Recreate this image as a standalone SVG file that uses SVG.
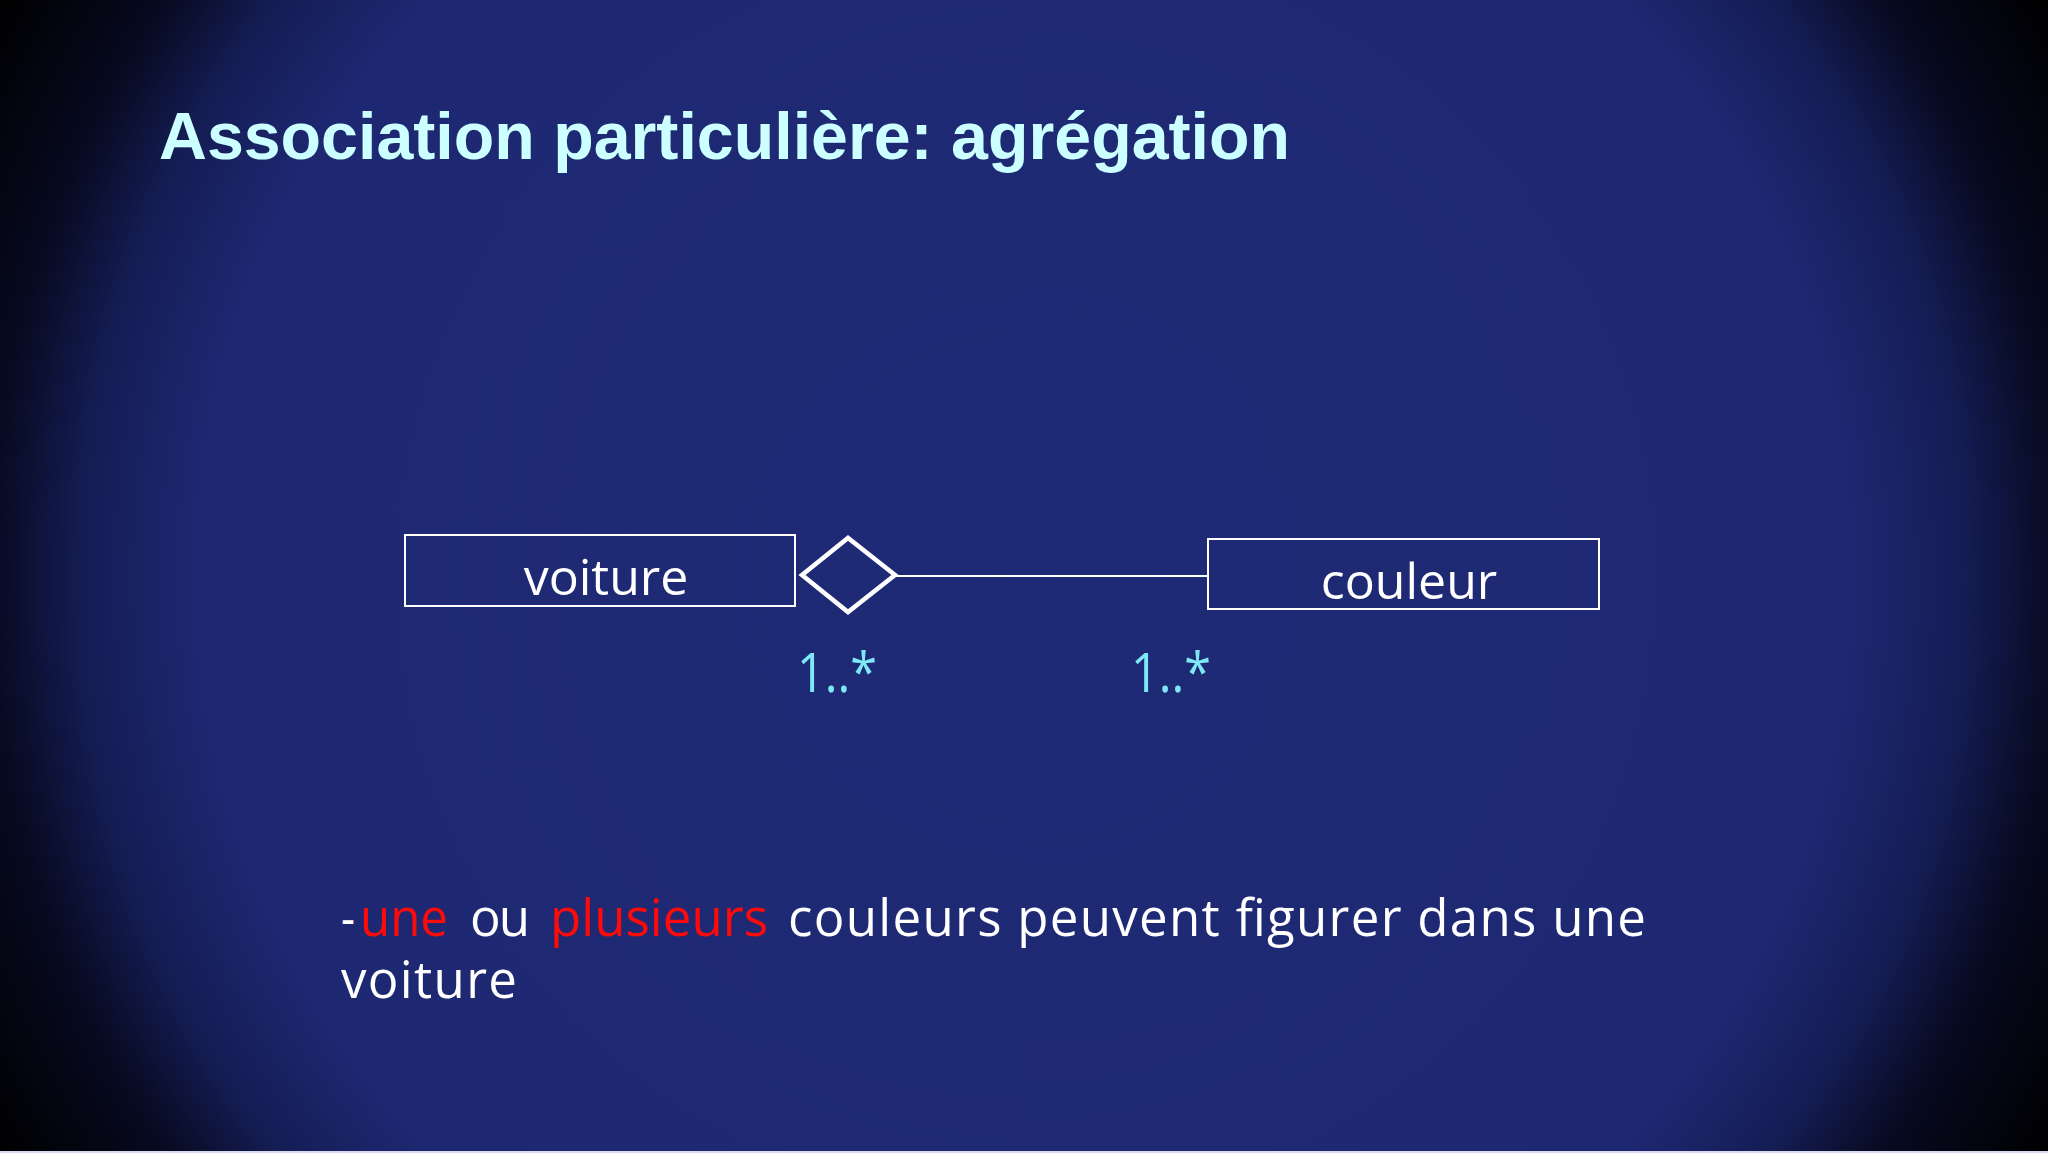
<svg xmlns="http://www.w3.org/2000/svg" width="2048" height="1153" viewBox="0 0 2048 1153">
  <defs>
    <radialGradient id="bg" cx="1024" cy="576" r="1175" gradientUnits="userSpaceOnUse">
      <stop offset="0" stop-color="#1f2a76"/>
      <stop offset="0.70" stop-color="#1e2872"/>
      <stop offset="0.80" stop-color="#151d55"/>
      <stop offset="0.88" stop-color="#070a20"/>
      <stop offset="1" stop-color="#000000"/>
    </radialGradient>
    <style>
      .box { fill: none; stroke: #ffffff; stroke-width: 2; }
      .lbl { font-family: "Open Sans", "Noto Sans", sans-serif; font-size: 50px; fill: #ffffff; text-anchor: middle; }
      .mult { font-family: "Open Sans", "Noto Sans", sans-serif; font-size: 55px; fill: #7fe8f7; }
      .body { font-family: "Open Sans", "Noto Sans", sans-serif; font-size: 51px; fill: #ffffff; }
      .red { fill: #ff0a0a; }
    </style>
  </defs>
  <rect x="0" y="0" width="2048" height="1153" fill="url(#bg)"/>
  <rect x="0" y="1151" width="2048" height="2" fill="#d8d8ee"/>

  <text x="159" y="159" font-family="Liberation Sans, Arial, sans-serif" font-weight="bold" font-size="66" fill="#ccffff" textLength="1131" lengthAdjust="spacingAndGlyphs">Association particulière: agrégation</text>

  <g id="connectors">
    <line x1="895" y1="576" x2="1208" y2="576" stroke="#ffffff" stroke-width="2"/>
  </g>

  <g id="voiture">
    <rect class="box" x="405" y="535" width="390" height="71"/>
    <text class="lbl" x="606" y="595">voiture</text>
  </g>

  <g id="aggregation-diamond">
    <polygon points="802,575 848,538 895,575 848,612" fill="none" stroke="#ffffff" stroke-width="4.5" stroke-linejoin="miter"/>
  </g>

  <g id="couleur">
    <rect class="box" x="1208" y="539" width="391" height="70"/>
    <text class="lbl" x="1409" y="599">couleur</text>
  </g>

  <g id="multiplicities">
    <text class="mult" x="797" y="692" textLength="80" lengthAdjust="spacingAndGlyphs">1..*</text>
    <text class="mult" x="1131" y="692" textLength="80" lengthAdjust="spacingAndGlyphs">1..*</text>
  </g>

  <g id="caption">
    <text class="body" x="341" y="936" textLength="14" lengthAdjust="spacingAndGlyphs">-</text>
    <text class="body red" x="360" y="936" textLength="88" lengthAdjust="spacingAndGlyphs">une</text>
    <text class="body" x="470" y="936" textLength="60" lengthAdjust="spacing">ou</text>
    <text class="body red" x="550" y="936" textLength="218" lengthAdjust="spacing">plusieurs</text>
    <text class="body" x="788" y="936" textLength="858" lengthAdjust="spacing">couleurs peuvent figurer dans une</text>
    <text class="body" x="341" y="998" textLength="176" lengthAdjust="spacing">voiture</text>
  </g>
</svg>
